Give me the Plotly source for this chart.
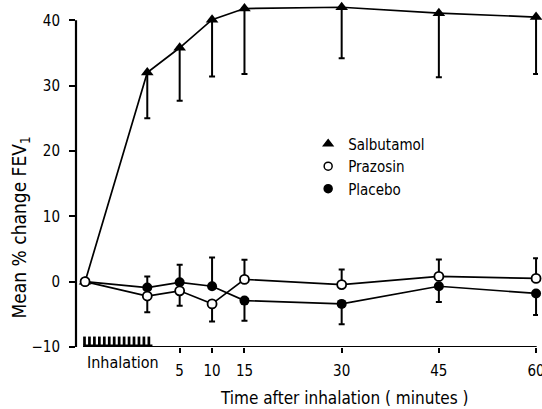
import plotly.graph_objects as go

# ---- data ----
pre_time = -9.6
times = [0, 5, 10, 15, 30, 45, 60]
tick_vals = [5, 10, 15, 30, 45, 60]
tick_text = ["5", "10", "15", "30", "45", "60"]
y_ticks = [-10, 0, 10, 20, 30, 40]

salb_mean = [0, 32.0, 35.8, 40.1, 41.8, 42.0, 41.1, 40.5]
salb_err_minus = [0, 7.0, 8.1, 8.7, 10.0, 7.8, 9.8, 8.7]

praz_mean = [0, -2.2, -1.4, -3.4, 0.35, -0.45, 0.8, 0.5]
praz_err_plus = [0, 0, 0, 0, 3.0, 2.3, 2.6, 3.1]
praz_err_minus = [0, 2.5, 2.3, 2.7, 0, 0, 0, 0]

plac_mean = [0, -0.9, -0.1, -0.7, -2.9, -3.4, -0.7, -1.8]
plac_err_plus = [0, 1.7, 2.7, 4.4, 0, 0, 0, 0]
plac_err_minus = [0, 0, 0, 0, 3.1, 3.1, 2.4, 3.3]

inhal_start = -9.9
inhal_end = 0.8
n_teeth = 14

x_all = [pre_time] + times

FONT = "DejaVu Sans Condensed, sans-serif"

fig = go.Figure()

fig.add_trace(go.Scatter(
    x=x_all, y=salb_mean, mode="lines+markers", showlegend=False,
    line=dict(color="black", width=1.7),
    marker=dict(symbol="triangle-up", size=11, color="black"),
    error_y=dict(type="data", symmetric=False, array=[0]*len(x_all),
                 arrayminus=salb_err_minus, color="black", thickness=2, width=3),
    cliponaxis=False))

fig.add_trace(go.Scatter(
    x=x_all, y=plac_mean, mode="lines+markers", showlegend=False,
    line=dict(color="black", width=1.7),
    marker=dict(symbol="circle", size=10, color="black"),
    error_y=dict(type="data", symmetric=False, array=plac_err_plus,
                 arrayminus=plac_err_minus, color="black", thickness=2, width=3),
    cliponaxis=False))

fig.add_trace(go.Scatter(
    x=x_all, y=praz_mean, mode="lines+markers", showlegend=False,
    line=dict(color="black", width=1.7),
    marker=dict(symbol="circle", size=9, color="white",
                line=dict(color="black", width=1.8)),
    error_y=dict(type="data", symmetric=False, array=praz_err_plus,
                 arrayminus=praz_err_minus, color="black", thickness=2, width=3),
    cliponaxis=False))

# legend entries
for name, sym in [("Salbutamol", "triangle-up"),
                  ("Prazosin", "circle-open"),
                  ("Placebo", "circle")]:
    fig.add_trace(go.Scatter(x=[None], y=[None], mode="markers", name=name,
                             marker=dict(symbol=sym, size=8, color="black",
                                         line=dict(color="black", width=1.5))))

# y axis line (only up to 40)
fig.add_shape(type="line", xref="paper", yref="y", x0=0, x1=0,
              y0=-10, y1=40, line=dict(color="black", width=2.2))
# x axis line from inhalation start to end
fig.add_shape(type="line", xref="x", yref="y", x0=inhal_start, x1=60.1,
              y0=-10, y1=-10, line=dict(color="black", width=2.2))
# inhalation comb
fig.add_shape(type="rect", xref="x", yref="y", x0=inhal_start, x1=inhal_end,
              y0=-10.2, y1=-9.6, line=dict(width=0), fillcolor="black")
step = (inhal_end - inhal_start) / n_teeth
for i in range(n_teeth):
    x0 = inhal_start + i * step
    fig.add_shape(type="rect", xref="x", yref="y", x0=x0, x1=x0 + step * 0.55,
                  y0=-9.7, y1=-8.4, line=dict(width=0), fillcolor="black")

fig.add_annotation(x=(inhal_start + inhal_end) / 2, y=-10, xref="x", yref="y",
                   text="Inhalation", showarrow=False, yanchor="top", yshift=-4,
                   xshift=5, font=dict(family=FONT, size=16, color="black"))
fig.add_annotation(x=30.5, y=0, xref="x", yref="paper",
                   text="Time after inhalation ( minutes )", showarrow=False,
                   yanchor="middle", yshift=-51,
                   font=dict(family=FONT, size=17, color="black"))
fig.add_annotation(x=0, y=8.3, xref="paper", yref="y", xanchor="center",
                   yanchor="middle", xshift=-56, textangle=-90,
                   text="Mean % change FEV<sub>1</sub>", showarrow=False,
                   font=dict(family=FONT, size=19, color="black"))

fig.update_layout(
    width=542, height=409,
    margin=dict(l=76, r=4, t=4, b=62, autoexpand=False),
    plot_bgcolor="white", paper_bgcolor="white",
    font=dict(family=FONT, size=15, color="black"),
    showlegend=True,
    legend=dict(x=0.5025, y=0.64, xanchor="left", yanchor="top",
                bgcolor="rgba(0,0,0,0)", font=dict(family=FONT, size=15),
                itemwidth=30, tracegroupgap=0),
    xaxis=dict(range=[-11.0, 60.3], showgrid=False, zeroline=False,
               showline=False, tickvals=tick_vals, ticktext=tick_text,
               ticks="outside", ticklen=5, tickwidth=2, tickcolor="black",
               tickfont=dict(family=FONT, size=15), automargin=False,
               ticklabeloverflow="allow", ticklabelstandoff=5),
    yaxis=dict(range=[-10, 42.5], showgrid=False, zeroline=False,
               showline=False, tickvals=y_ticks, ticks="outside", ticklen=6,
               tickwidth=2, tickcolor="black",
               tickfont=dict(family=FONT, size=15), automargin=False,
               ticklabelstandoff=6),
)

fig.write_html("out.html", config={"displayModeBar": False},
               post_script="document.body.style.margin='0px';"
                           "document.body.style.overflow='hidden';")
